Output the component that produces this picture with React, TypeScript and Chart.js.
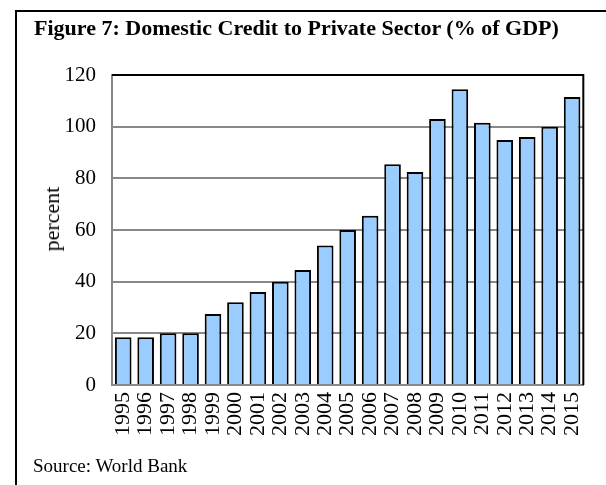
import React, { useEffect, useRef } from "react";
import { Chart, registerables } from "chart.js";

Chart.register(...registerables);

const years = ["1995","1996","1997","1998","1999","2000","2001","2002","2003","2004","2005","2006","2007","2008","2009","2010","2011","2012","2013","2014","2015"];
const creditPct = [18.5, 18.5, 20, 20, 27.5, 32, 36, 40, 44.5, 54, 60, 65.5, 85.5, 82.5, 103, 114.5, 101.5, 94.8, 96, 100, 111.5];
const yTicks = [0, 20, 40, 60, 80, 100, 120];

const SERIF = "'Liberation Serif', 'Times New Roman', serif";

const frameLines = {
  id: "frameLines",
  afterDatasetsDraw(chart: any) {
    const { ctx, chartArea } = chart;
    ctx.save();
    ctx.strokeStyle = "#000";
    ctx.lineWidth = 2;
    ctx.beginPath();
    ctx.moveTo(chartArea.left, chartArea.top);
    ctx.lineTo(chartArea.right, chartArea.top);
    ctx.lineTo(chartArea.right, chartArea.bottom);
    ctx.stroke();
    ctx.restore();
  },
};

export default function App() {
  const ref = useRef<HTMLCanvasElement | null>(null);
  useEffect(() => {
    if (!ref.current) return;
    const chart = new Chart(ref.current, {
      type: "bar",
      data: {
        labels: years,
        datasets: [
          {
            data: creditPct,
            backgroundColor: "#99CCFF",
            borderColor: "#000",
            borderWidth: 2,
            categoryPercentage: 1,
            barPercentage: 0.74,
          },
        ],
      },
      options: {
        animation: false,
        responsive: false,
        maintainAspectRatio: false,
        layout: { padding: { top: 75, right: 21, bottom: 40, left: 0 } },
        plugins: { legend: { display: false }, tooltip: { enabled: false } },
        scales: {
          x: {
            grid: { display: false, drawTicks: false },
            border: { color: "#888", width: 2 },
            ticks: {
              color: "#000",
              font: { family: SERIF, size: 22 },
              minRotation: 90,
              maxRotation: 90,
              autoSkip: false,
              padding: 7,
            },
            afterFit: (s: any) => {
              s.height = 60;
            },
          },
          y: {
            min: 0,
            max: 120,
            afterBuildTicks: (s: any) => {
              s.ticks = yTicks.map((v) => ({ value: v }));
            },
            grid: { color: "#888", lineWidth: 2, drawTicks: false },
            border: { color: "#888", width: 2 },
            ticks: {
              color: "#000",
              font: { family: SERIF, size: 21 },
              padding: 16,
            },
            afterFit: (s: any) => {
              s.width = 112;
            },
          },
        },
      },
      plugins: [frameLines],
    });
    return () => chart.destroy();
  }, []);

  return (
    <div style={{ position: "fixed", left: 0, top: 0, width: 606, height: 485, overflow: "hidden", background: "#fff" }}>
      <div
        style={{
          position: "absolute",
          left: 15,
          top: 10,
          width: 700,
          height: 600,
          borderLeft: "2px solid #000",
          borderTop: "2px solid #000",
        }}
      />
      <canvas ref={ref} width={606} height={485} style={{ position: "absolute", left: 0, top: 0, width: 606, height: 485 }} />
      <div
        style={{
          position: "absolute",
          left: 34,
          top: 15,
          fontFamily: SERIF,
          fontWeight: "bold",
          fontSize: 22,
          whiteSpace: "nowrap",
          color: "#000",
        }}
      >
        Figure 7: Domestic Credit to Private Sector (% of GDP)
      </div>
      <div
        style={{
          position: "absolute",
          left: 52,
          top: 219,
          fontFamily: SERIF,
          fontSize: 22,
          lineHeight: "22px",
          whiteSpace: "nowrap",
          color: "#000",
          transform: "translate(-50%, -50%) rotate(-90deg)",
        }}
      >
        percent
      </div>
      <div
        style={{
          position: "absolute",
          left: 33,
          top: 455,
          fontFamily: SERIF,
          fontSize: 19,
          whiteSpace: "nowrap",
          color: "#000",
        }}
      >
        Source: World Bank
      </div>
    </div>
  );
}
